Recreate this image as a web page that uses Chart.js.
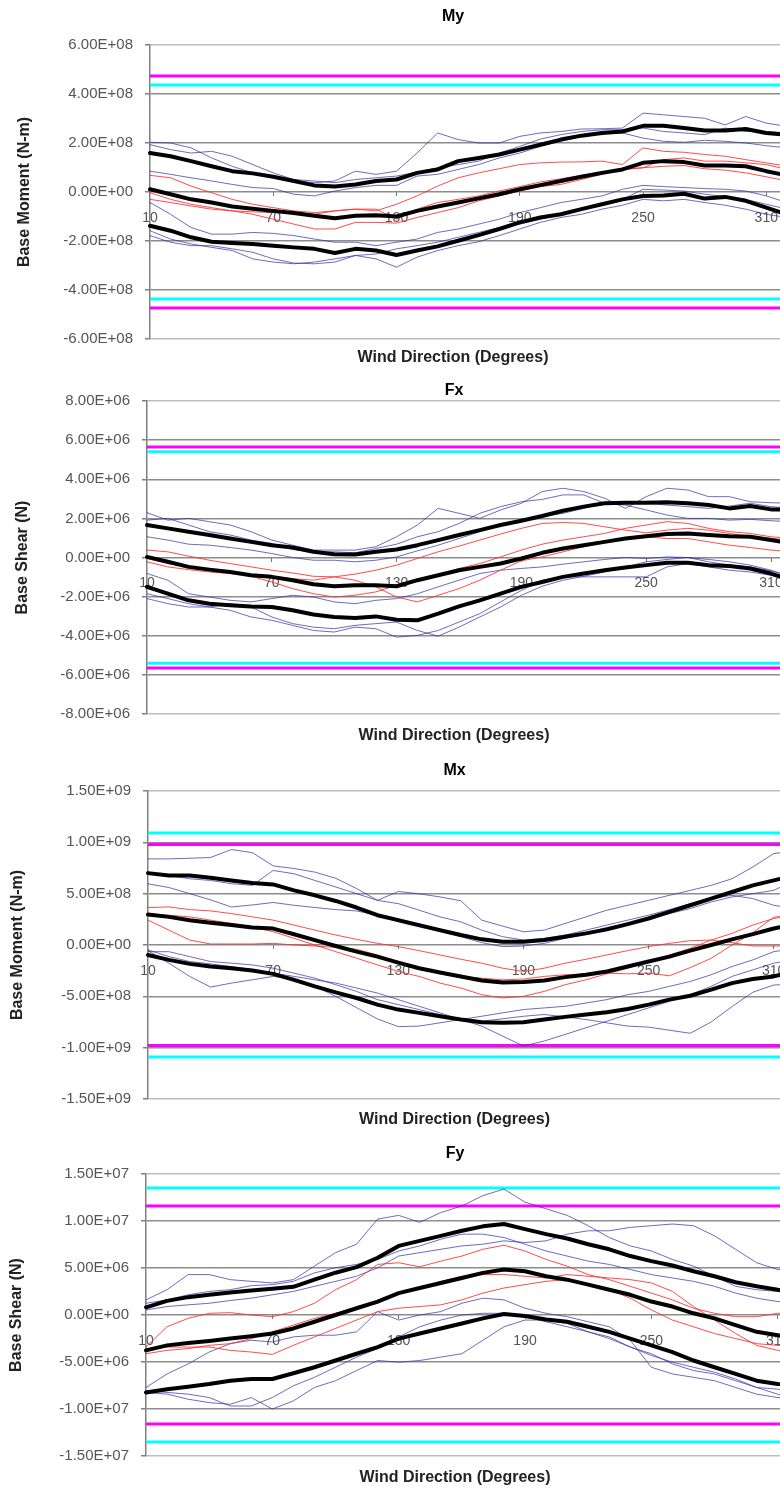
<!DOCTYPE html>
<html>
<head>
<meta charset="utf-8">
<script src="https://cdn.jsdelivr.net/npm/chart.js@4.4.1/dist/chart.umd.min.js"></script>
<style>
  html, body { margin: 0; padding: 0; background: #fff; overflow: hidden; width: 780px; height: 1489px; }
  canvas { position: absolute; left: 0; }
</style>
</head>
<body>
<canvas id="chartMy" width="908" height="365" style="top:5px"></canvas>
<canvas id="chartFx" width="908" height="369" style="top:379px"></canvas>
<canvas id="chartMx" width="908" height="373" style="top:759px"></canvas>
<canvas id="chartFy" width="908" height="347" style="top:1142px"></canvas>
<script>
// wind direction categories (degrees); series below are read for 10..320
var directions = [10, 20, 30, 40, 50, 60, 70, 80, 90, 100, 110, 120, 130, 140, 150, 160, 170, 180,
    190, 200, 210, 220, 230, 240, 250, 260, 270, 280, 290, 300, 310, 320, 330, 340, 350, 360];

// ---- My, values in 1e8 N-m ----
var myBlack = [
    [1.59, 1.46, 1.26, 1.05, 0.85, 0.76, 0.62, 0.45, 0.27, 0.22, 0.31, 0.45, 0.51, 0.78, 0.92, 1.26, 1.39, 1.53, 1.73, 1.93, 2.14, 2.30, 2.41, 2.47, 2.70, 2.70, 2.61, 2.51, 2.51, 2.57, 2.41, 2.34],
    [0.11, -0.09, -0.30, -0.43, -0.59, -0.68, -0.77, -0.86, -0.97, -1.07, -0.97, -0.95, -1.00, -0.77, -0.59, -0.43, -0.26, -0.09, 0.11, 0.28, 0.45, 0.62, 0.78, 0.92, 1.19, 1.26, 1.22, 1.08, 1.08, 1.05, 0.85, 0.68],
    [-1.38, -1.58, -1.85, -2.03, -2.08, -2.12, -2.19, -2.26, -2.32, -2.49, -2.32, -2.39, -2.57, -2.39, -2.22, -1.99, -1.76, -1.51, -1.24, -1.04, -0.91, -0.70, -0.50, -0.30, -0.16, -0.14, -0.07, -0.27, -0.20, -0.36, -0.64, -0.91]
];
var myRed = [
    [0.68, 0.58, 0.24, -0.03, -0.30, -0.50, -0.64, -0.77, -0.84, -0.77, -0.70, -0.77, -0.50, -0.16, 0.24, 0.58, 0.78, 0.95, 1.12, 1.19, 1.22, 1.23, 1.26, 1.12, 1.80, 1.66, 1.62, 1.53, 1.46, 1.32, 1.19, 1.05],
    [-0.03, -0.30, -0.50, -0.64, -0.77, -0.91, -1.11, -1.31, -1.51, -1.51, -1.24, -1.24, -1.27, -1.04, -0.84, -0.64, -0.36, -0.16, 0.04, 0.22, 0.31, 0.51, 0.72, 0.92, 0.99, 1.05, 1.08, 0.95, 0.89, 0.78, 0.62, 0.45],
    [-0.30, -0.43, -0.57, -0.70, -0.77, -0.81, -0.84, -0.86, -0.91, -0.77, -0.70, -0.70, -1.11, -0.70, -0.43, -0.30, -0.16, 0.04, 0.22, 0.41, 0.54, 0.68, 0.81, 0.92, 0.99, 1.32, 1.39, 1.26, 1.26, 1.19, 1.12, 0.92]
];
var myBlue = [
    [2.03, 2.00, 1.80, 1.39, 1.05, 0.78, 0.65, 0.45, 0.38, 0.45, 0.85, 0.72, 0.85, 1.59, 2.41, 2.14, 2.00, 2.00, 2.27, 2.41, 2.47, 2.57, 2.58, 2.61, 3.22, 3.15, 3.08, 3.01, 2.74, 3.08, 2.81, 2.68],
    [1.93, 1.73, 1.59, 1.66, 1.46, 1.12, 0.78, 0.51, 0.45, 0.38, 0.51, 0.58, 0.65, 0.81, 0.99, 1.12, 1.26, 1.59, 1.86, 2.16, 2.34, 2.47, 2.54, 2.54, 2.61, 2.47, 2.41, 2.34, 2.61, 2.47, 2.47, 2.41],
    [0.85, 0.72, 0.58, 0.45, 0.31, 0.18, 0.14, -0.09, -0.16, 0.04, 0.18, 0.27, 0.27, 0.65, 0.72, 0.92, 1.12, 1.39, 1.59, 1.86, 2.07, 2.27, 2.41, 2.41, 2.20, 2.07, 2.03, 2.11, 2.07, 2.00, 1.89, 1.80],
    [-0.43, -0.91, -1.45, -1.72, -1.72, -1.65, -1.69, -1.78, -1.92, -2.05, -2.05, -2.19, -2.05, -1.92, -1.65, -1.51, -1.31, -1.11, -0.84, -0.64, -0.43, -0.30, -0.16, 0.11, 0.27, 0.22, 0.18, 0.14, 0.11, 0.04, -0.16, -0.43],
    [-1.58, -1.92, -2.12, -2.26, -2.39, -2.73, -2.86, -2.93, -2.86, -2.73, -2.59, -2.73, -3.07, -2.66, -2.39, -2.19, -2.03, -1.78, -1.51, -1.24, -1.04, -0.91, -0.70, -0.54, -0.30, -0.36, -0.30, -0.43, -0.54, -0.70, -0.91, -1.04],
    [-1.78, -2.05, -2.19, -2.19, -2.32, -2.46, -2.73, -2.90, -2.93, -2.86, -2.59, -2.53, -2.32, -2.19, -2.05, -1.85, -1.65, -1.45, -1.31, -1.11, -0.91, -0.70, -0.54, -0.30, 0.11, 0.08, 0.04, -0.09, -0.19, -0.30, -0.50, -0.70]
];
var myLimits = { cyan: 4.37, magenta: 4.73 };

// ---- Fx, values in 1e6 N ----
var fxBlack = [
    [1.66, 1.49, 1.32, 1.15, 0.97, 0.80, 0.63, 0.51, 0.29, 0.17, 0.15, 0.29, 0.41, 0.63, 0.89, 1.15, 1.40, 1.66, 1.88, 2.12, 2.39, 2.60, 2.77, 2.80, 2.80, 2.82, 2.77, 2.68, 2.51, 2.63, 2.46, 2.46],
    [0.03, -0.22, -0.48, -0.62, -0.74, -0.91, -0.99, -1.16, -1.37, -1.47, -1.42, -1.42, -1.47, -1.16, -0.91, -0.65, -0.48, -0.31, -0.05, 0.24, 0.46, 0.63, 0.80, 0.97, 1.09, 1.20, 1.23, 1.15, 1.09, 1.06, 0.89, 0.72],
    [-1.50, -1.85, -2.19, -2.36, -2.44, -2.50, -2.53, -2.70, -2.91, -3.04, -3.09, -3.01, -3.18, -3.21, -2.87, -2.50, -2.19, -1.85, -1.50, -1.25, -0.99, -0.82, -0.65, -0.51, -0.39, -0.27, -0.27, -0.39, -0.44, -0.56, -0.82, -1.16]
];
var fxRed = [
    [0.38, 0.29, 0.07, -0.14, -0.31, -0.48, -0.65, -0.79, -0.96, -0.99, -0.85, -0.65, -0.39, -0.05, 0.29, 0.58, 0.89, 1.20, 1.49, 1.74, 1.79, 1.74, 1.57, 1.40, 1.26, 1.40, 1.49, 1.40, 1.23, 1.06, 0.97, 0.89],
    [-0.05, -0.31, -0.48, -0.62, -0.74, -0.96, -1.25, -1.59, -1.85, -2.02, -1.93, -1.76, -1.42, -1.16, -0.91, -0.56, -0.31, 0.03, 0.38, 0.68, 0.89, 1.06, 1.23, 1.49, 1.66, 1.83, 1.74, 1.49, 1.32, 1.23, 1.06, 0.97],
    [-0.22, -0.48, -0.62, -0.74, -0.82, -0.91, -0.96, -1.08, -1.16, -0.99, -1.16, -1.50, -2.02, -2.27, -1.93, -1.59, -1.16, -0.65, -0.17, 0.03, 0.29, 0.55, 0.80, 0.97, 1.06, 0.97, 0.97, 0.80, 0.63, 0.51, 0.38, 0.29]
];
var fxBlue = [
    [2.29, 1.91, 2.00, 1.83, 1.66, 1.32, 0.89, 0.63, 0.38, 0.38, 0.38, 0.55, 1.06, 1.66, 2.51, 2.26, 2.00, 2.43, 2.77, 3.37, 3.54, 3.37, 3.03, 2.51, 3.11, 3.54, 3.45, 3.11, 3.11, 2.85, 2.80, 2.77],
    [1.91, 2.00, 1.66, 1.32, 1.15, 0.89, 0.72, 0.41, 0.29, 0.29, 0.24, 0.46, 0.68, 1.06, 1.32, 1.74, 2.26, 2.60, 2.85, 2.97, 3.20, 3.20, 2.77, 2.68, 2.43, 2.17, 2.00, 2.00, 1.91, 1.95, 1.88, 1.83],
    [1.06, 0.89, 0.68, 0.63, 0.51, 0.38, 0.20, 0.00, -0.14, -0.14, -0.22, -0.14, 0.03, 0.34, 0.63, 0.97, 1.32, 1.66, 1.91, 2.09, 2.26, 2.51, 2.77, 2.85, 2.77, 2.68, 2.60, 2.51, 2.63, 2.77, 2.60, 2.51],
    [-0.82, -1.16, -1.85, -2.02, -2.19, -2.27, -2.10, -1.93, -2.02, -2.27, -2.36, -2.19, -2.10, -1.85, -1.50, -1.16, -0.82, -0.65, -0.56, -0.48, -0.34, -0.22, -0.10, 0.00, -0.05, 0.03, 0.00, -0.10, -0.22, -0.39, -0.65, -0.99],
    [-1.85, -2.10, -2.36, -2.53, -2.70, -3.04, -3.21, -3.47, -3.73, -3.81, -3.56, -3.64, -4.07, -3.98, -3.73, -3.30, -2.87, -2.27, -1.68, -1.16, -0.99, -0.99, -0.99, -0.99, -0.99, -0.48, -0.31, -0.48, -0.65, -0.74, -0.91, -1.25],
    [-2.10, -2.36, -2.53, -2.53, -2.36, -2.53, -3.04, -3.38, -3.56, -3.64, -3.47, -3.38, -3.30, -3.73, -4.02, -3.56, -3.04, -2.53, -1.93, -1.47, -1.16, -0.96, -0.74, -0.48, -0.22, -0.10, 0.00, -0.22, -0.39, -0.48, -0.68, -0.99]
];
var fxLimits = { cyan: 5.40, magenta: 5.65 };

// ---- Mx, values in 1e8 N-m ----
var mxBlack = [
    [7.00, 6.77, 6.77, 6.55, 6.29, 6.03, 5.90, 5.32, 4.84, 4.29, 3.65, 2.90, 2.42, 1.94, 1.45, 0.97, 0.55, 0.32, 0.32, 0.48, 0.81, 1.13, 1.52, 2.03, 2.58, 3.23, 3.87, 4.52, 5.16, 5.81, 6.29, 6.77],
    [2.97, 2.74, 2.42, 2.16, 1.94, 1.71, 1.60, 1.05, 0.48, -0.10, -0.65, -1.13, -1.71, -2.26, -2.68, -3.06, -3.45, -3.65, -3.61, -3.45, -3.13, -2.90, -2.58, -2.10, -1.61, -1.13, -0.55, 0.00, 0.55, 1.06, 1.61, 2.03],
    [-0.97, -1.45, -1.84, -2.10, -2.26, -2.48, -2.81, -3.39, -4.03, -4.61, -5.16, -5.81, -6.29, -6.61, -6.94, -7.26, -7.52, -7.58, -7.52, -7.26, -7.00, -6.77, -6.55, -6.23, -5.81, -5.32, -4.94, -4.35, -3.71, -3.32, -3.06, -2.58]
];
var mxRed = [
    [3.65, 3.71, 3.45, 3.32, 3.06, 2.74, 2.42, 1.94, 1.45, 0.97, 0.55, 0.16, -0.16, -0.55, -0.97, -1.39, -1.77, -2.26, -2.58, -2.26, -1.77, -1.39, -0.97, -0.55, -0.16, 0.16, 0.42, 0.48, 0.23, -0.10, -0.10, -0.10],
    [3.06, 2.90, 2.74, 2.42, 2.10, 1.77, 1.29, 0.65, 0.00, -0.65, -1.29, -1.94, -2.58, -3.06, -3.71, -4.19, -4.84, -5.16, -5.00, -4.52, -3.87, -3.39, -2.81, -2.26, -1.61, -0.97, -0.32, 0.48, 1.13, 1.94, 2.58, 2.90],
    [2.42, 1.45, 0.48, 0.10, 0.10, 0.10, 0.16, 0.00, -0.10, -0.23, -0.42, -0.97, -1.77, -2.26, -2.74, -3.06, -3.23, -3.39, -3.32, -3.06, -2.90, -2.81, -2.74, -2.81, -2.74, -3.00, -2.20, -1.30, 0.00, 1.20, 2.70, 3.00]
];
var mxBlue = [
    [8.39, 8.39, 8.45, 8.52, 9.30, 9.00, 7.71, 7.45, 7.10, 6.50, 5.50, 4.35, 5.21, 4.99, 4.68, 4.31, 2.42, 1.84, 1.29, 1.45, 2.10, 2.74, 3.39, 3.87, 4.35, 4.84, 5.32, 5.81, 6.45, 7.60, 8.90, 9.20],
    [6.94, 6.77, 6.45, 6.29, 5.97, 5.81, 7.26, 6.94, 6.29, 5.65, 5.00, 4.35, 4.03, 3.39, 2.74, 2.26, 1.45, 0.81, 0.48, 0.65, 0.97, 1.45, 1.94, 2.42, 2.90, 3.45, 4.03, 4.52, 4.84, 4.52, 3.87, 3.55],
    [5.96, 5.60, 5.00, 4.40, 3.70, 3.90, 4.14, 3.87, 3.65, 3.45, 3.32, 2.90, 2.26, 1.77, 1.29, 0.81, 0.23, -0.16, -0.10, 0.16, 0.65, 1.13, 1.71, 2.10, 2.58, 3.06, 3.55, 4.19, 4.68, 5.00, 5.32, 6.29],
    [-0.65, -0.65, -1.13, -1.61, -1.77, -1.94, -2.26, -2.74, -3.23, -3.87, -4.52, -5.32, -5.81, -6.29, -6.77, -7.26, -7.90, -8.87, -9.84, -9.35, -8.71, -8.06, -7.42, -6.77, -6.13, -5.48, -4.84, -4.03, -3.06, -2.42, -1.77, -1.45],
    [-0.55, -1.77, -3.06, -4.10, -3.71, -3.39, -3.06, -3.30, -4.00, -5.00, -6.10, -7.20, -7.95, -7.90, -7.58, -7.26, -6.94, -6.61, -6.29, -6.13, -5.97, -5.65, -5.32, -4.84, -4.52, -4.03, -3.55, -2.90, -2.10, -1.45, -0.65, -0.32],
    [-0.48, -1.13, -1.61, -1.84, -2.10, -2.42, -2.74, -3.06, -3.39, -3.71, -4.19, -4.68, -5.32, -5.97, -6.61, -7.26, -7.42, -7.19, -6.94, -6.77, -7.00, -7.26, -7.58, -7.90, -8.00, -8.30, -8.60, -7.50, -6.00, -4.60, -3.90, -3.80]
];
var mxLimits = { cyan: 10.9, magenta: 9.8 };

// ---- Fy, values in 1e6 N ----
var fyBlack = [
    [0.82, 1.50, 1.90, 2.15, 2.40, 2.60, 2.80, 3.00, 3.76, 4.50, 5.10, 6.09, 7.35, 7.89, 8.42, 8.96, 9.43, 9.68, 9.14, 8.60, 8.14, 7.53, 6.99, 6.27, 5.73, 5.27, 4.66, 4.12, 3.48, 3.05, 2.69, 2.40],
    [-3.76, -3.23, -2.97, -2.76, -2.51, -2.26, -1.97, -1.43, -0.72, 0.00, 0.72, 1.43, 2.33, 2.87, 3.41, 3.94, 4.48, 4.84, 4.66, 4.12, 3.76, 3.23, 2.69, 2.15, 1.43, 0.90, 0.18, -0.36, -1.08, -1.79, -2.15, -2.51],
    [-8.24, -7.89, -7.63, -7.35, -6.99, -6.81, -6.81, -6.20, -5.56, -4.84, -4.12, -3.41, -2.51, -1.97, -1.43, -0.90, -0.36, 0.11, -0.11, -0.47, -0.72, -1.25, -1.79, -2.51, -3.23, -3.94, -4.84, -5.56, -6.27, -6.99, -7.35, -7.42]
];
var fyRed = [
    [-3.41, -1.25, -0.36, 0.18, 0.25, 0.00, -0.18, 0.36, 1.25, 2.69, 3.76, 5.38, 5.56, 5.13, 5.73, 6.27, 6.99, 7.42, 6.81, 5.91, 5.20, 4.30, 3.76, 3.05, 2.33, 1.61, 0.72, 0.18, -0.18, -0.18, 0.18, 0.36],
    [-4.12, -3.76, -3.58, -3.23, -3.05, -2.51, -1.79, -1.08, -0.36, 0.18, 0.72, 1.25, 2.33, 2.87, 3.58, 4.12, 4.30, 4.30, 4.12, 3.94, 4.30, 4.12, 3.94, 3.76, 3.41, 2.51, 0.90, -0.54, -1.97, -3.23, -3.76, -3.94],
    [-3.58, -3.41, -3.41, -3.41, -3.76, -3.94, -4.19, -3.23, -2.33, -1.43, -0.54, 0.36, 0.72, 0.90, 1.08, 1.61, 2.33, 2.87, 3.23, 3.58, 3.76, 3.33, 2.69, 1.79, 0.54, -0.54, -1.25, -1.97, -2.51, -3.05, -3.23, -3.41]
];
var fyBlue = [
    [1.61, 2.69, 4.30, 4.30, 3.76, 3.58, 3.41, 3.76, 5.20, 6.63, 7.53, 10.20, 10.60, 9.86, 10.90, 11.60, 12.70, 13.40, 12.00, 11.30, 10.60, 9.50, 8.24, 7.35, 6.81, 5.91, 5.20, 4.12, 3.05, 2.69, 2.51, 1.97],
    [0.54, 0.90, 1.08, 1.25, 1.54, 1.79, 2.15, 2.51, 3.05, 3.58, 4.12, 5.02, 6.27, 6.63, 6.99, 7.35, 7.53, 7.89, 7.71, 7.89, 8.60, 8.96, 8.96, 9.32, 9.50, 9.68, 9.50, 8.42, 6.99, 5.56, 4.84, 4.66],
    [1.25, 1.61, 2.15, 2.51, 2.69, 3.12, 3.23, 3.58, 4.48, 5.02, 5.38, 5.91, 6.81, 7.35, 8.06, 8.60, 8.60, 8.24, 7.53, 6.81, 6.27, 5.73, 5.38, 4.84, 4.30, 3.94, 3.58, 3.05, 2.33, 1.79, 1.43, 1.25],
    [-7.71, -6.27, -5.20, -3.94, -3.05, -2.69, -2.87, -2.33, -2.15, -2.15, -1.79, 0.36, -0.54, 0.00, 0.36, 1.25, 1.79, 1.61, 0.72, 0.18, -0.18, -0.72, -1.25, -2.69, -5.56, -6.27, -6.63, -6.99, -7.71, -8.42, -8.78, -8.96],
    [-8.24, -8.42, -8.96, -9.32, -9.50, -8.78, -10.00, -9.14, -7.71, -6.99, -5.91, -4.84, -5.02, -4.84, -4.48, -4.12, -2.69, -1.25, -0.54, -0.54, -0.90, -1.79, -2.33, -3.41, -4.12, -5.20, -5.91, -6.27, -6.99, -7.71, -8.42, -9.14],
    [-8.06, -8.24, -8.42, -8.78, -9.68, -9.68, -8.78, -7.53, -6.63, -5.56, -4.48, -3.58, -2.33, -1.25, -0.54, 0.00, 0.18, 0.18, -0.18, -0.72, -1.25, -1.79, -2.51, -3.41, -4.30, -5.02, -5.56, -6.09, -6.81, -7.71, -7.89, -8.42]
];
var fyLimits = { cyan: 13.5, magenta: 11.6 };

var FONT = '"Liberation Sans", Arial, sans-serif';

// 6.00E+08 style labels
function sciLabel(v) {
    var parts = v.toExponential(2).split('e');
    var sign = parts[1].charAt(0);
    var digits = parts[1].slice(1);
    if (digits.length < 2) {
        digits = '0' + digits;
    }
    return parts[0] + 'E' + sign + digits;
}

function seriesLine(values, color, width) {
    return {
        data: values,
        borderColor: color,
        borderWidth: width,
        pointRadius: 0,
        tension: 0,
        borderJoinStyle: 'round',
        borderCapStyle: 'round',
        fill: false
    };
}

function limitLine(value, color) {
    return {
        data: [{x: directions[0], y: value}, {x: directions[directions.length - 1], y: value}],
        borderColor: color,
        borderWidth: 3,
        pointRadius: 0,
        fill: false
    };
}

function drawPanel(id, p) {
    var datasets = [];
    // first dataset is drawn on top in Chart.js
    p.black.forEach(function (d) { datasets.push(seriesLine(d, '#000000', 4)); });
    p.red.forEach(function (d) { datasets.push(seriesLine(d, 'rgba(255,45,45,0.85)', 1)); });
    p.blue.forEach(function (d) { datasets.push(seriesLine(d, 'rgba(45,45,165,0.7)', 1)); });
    datasets.push(limitLine(p.limits.cyan, '#00ffff'));
    datasets.push(limitLine(-p.limits.cyan, '#00ffff'));
    datasets.push(limitLine(p.limits.magenta, '#ff00ff'));
    datasets.push(limitLine(-p.limits.magenta, '#ff00ff'));

    var tickCount = Math.round((p.max - p.min) / p.step);

    return new Chart(document.getElementById(id), {
        type: 'line',
        data: {
            labels: directions,
            datasets: datasets
        },
        options: {
            responsive: false,
            animation: false,
            events: [],
            // left padding keeps the titles centred where the reference has them
            layout: {
                padding: {left: p.padLeft, right: p.padRight, top: 0, bottom: 0}
            },
            plugins: {
                legend: {display: false},
                tooltip: {enabled: false},
                title: {
                    display: true,
                    text: p.title,
                    color: '#000',
                    font: {size: 16, family: FONT, weight: 'bold'},
                    padding: {top: p.titlePad[0], bottom: p.titlePad[1]}
                },
                subtitle: {
                    display: true,
                    position: 'bottom',
                    text: 'Wind Direction (Degrees)',
                    color: '#222',
                    font: {size: 16, family: FONT, weight: 'bold'},
                    padding: {top: p.xTitlePad[0], bottom: p.xTitlePad[1]}
                }
            },
            scales: {
                x: {
                    type: 'category',
                    position: {y: 0},
                    offset: false,
                    border: {display: false},
                    grid: {
                        drawOnChartArea: false,
                        tickLength: 4,
                        color: function (ctx) {
                            return (ctx.index % 6 === 0 && ctx.index > 0) ? '#777' : 'rgba(0,0,0,0)';
                        }
                    },
                    ticks: {
                        autoSkip: false,
                        maxRotation: 0,
                        padding: 13.6,
                        color: '#555',
                        font: {size: 14, family: FONT},
                        callback: function (value, index) {
                            return index % 6 === 0 ? String(directions[index]) : '';
                        }
                    }
                },
                y: {
                    min: p.min,
                    max: p.max,
                    border: {color: '#808080', width: 1.5},
                    grid: {
                        lineWidth: 1.5,
                        tickLength: 5,
                        tickColor: '#808080',
                        color: function (ctx) {
                            return (ctx.index === 0 || ctx.index === tickCount) ? '#bdbdbd' : '#8c8c8c';
                        }
                    },
                    ticks: {
                        stepSize: p.step,
                        padding: 12,
                        color: '#555',
                        font: {size: 15, family: FONT},
                        callback: function (v) { return sciLabel(v * p.unit); }
                    },
                    title: {
                        display: true,
                        text: p.yTitle,
                        color: '#222',
                        font: {size: 16, family: FONT, weight: 'bold'},
                        padding: {top: p.yTitleX - p.padLeft - 9.6, bottom: 0}
                    },
                    afterFit: function (scale) { scale.width = p.plotLeft - p.padLeft; }
                }
            }
        }
    });
}

drawPanel('chartMy', {
    title: 'My', yTitle: 'Base Moment (N-m)', unit: 1e8,
    min: -6, max: 6, step: 2,
    black: myBlack, red: myRed, blue: myBlue, limits: myLimits,
    plotLeft: 150, padLeft: 37, padRight: 39, titlePad: [2.4, 18.4], xTitlePad: [9.4, 2.4], yTitleX: 25
});
drawPanel('chartFx', {
    title: 'Fx', yTitle: 'Base Shear (N)', unit: 1e6,
    min: -8, max: 8, step: 2,
    black: fxBlack, red: fxRed, blue: fxBlue, limits: fxLimits,
    plotLeft: 147, padLeft: 33, padRight: 33, titlePad: [2.4, 0.4], xTitlePad: [12.4, 2.4], yTitleX: 23
});
drawPanel('chartMx', {
    title: 'Mx', yTitle: 'Base Moment (N-m)', unit: 1e8,
    min: -15, max: 15, step: 5,
    black: mxBlack, red: mxRed, blue: mxBlue, limits: mxLimits,
    plotLeft: 148, padLeft: 31, padRight: 30, titlePad: [2.4, 10.4], xTitlePad: [11.4, 2.4], yTitleX: 18
});
drawPanel('chartFy', {
    title: 'Fy', yTitle: 'Base Shear (N)', unit: 1e6,
    min: -15, max: 15, step: 5,
    black: fyBlack, red: fyRed, blue: fyBlue, limits: fyLimits,
    plotLeft: 146, padLeft: 27, padRight: 25, titlePad: [2.4, 10.4], xTitlePad: [12.4, 1.4], yTitleX: 17
});
</script>
</body>
</html>
